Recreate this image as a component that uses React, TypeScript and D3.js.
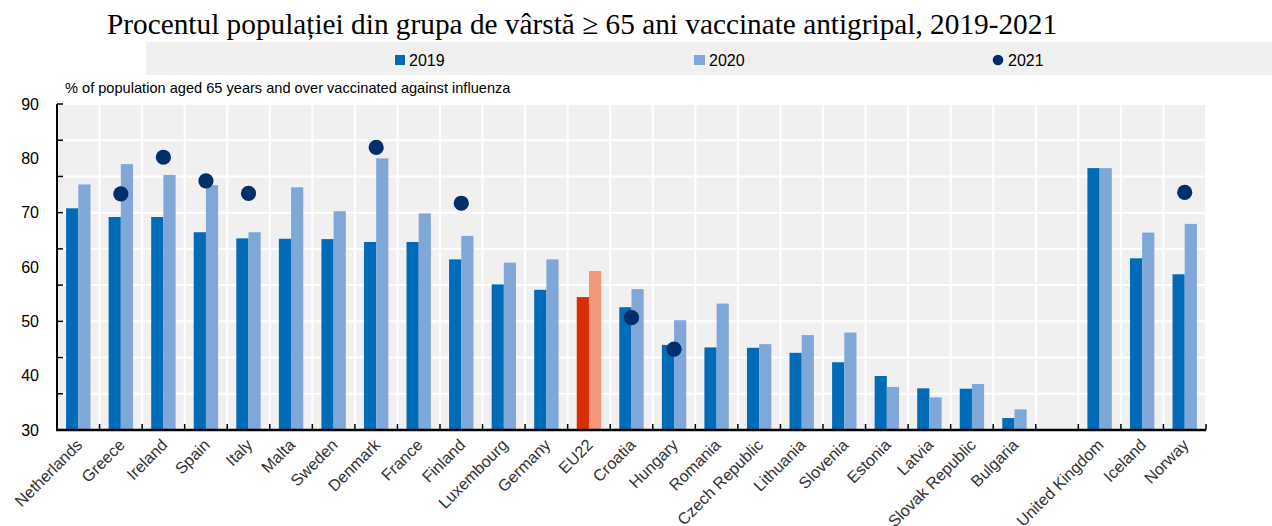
import React from 'react';
import * as d3 from 'd3';

// categories, left to right ("" is the empty gap before the non-EU countries)
const countries = [
  'Netherlands', 'Greece', 'Ireland', 'Spain', 'Italy', 'Malta', 'Sweden', 'Denmark',
  'France', 'Finland', 'Luxembourg', 'Germany', 'EU22', 'Croatia', 'Hungary', 'Romania',
  'Czech Republic', 'Lithuania', 'Slovenia', 'Estonia', 'Latvia', 'Slovak Republic',
  'Bulgaria', '', 'United Kingdom', 'Iceland', 'Norway',
];

const values2019 = [
  61.2, 58.8, 58.8, 54.6, 52.9, 52.8, 52.7, 51.9, 51.9, 47.1, 40.2, 38.7, 36.7, 33.9,
  23.5, 22.8, 22.7, 21.3, 18.7, 14.9, 11.5, 11.4, 3.3, null, 72.3, 47.4, 43.0,
];

const values2020 = [
  67.8, 73.4, 70.4, 67.6, 54.6, 67.0, 60.4, 75.0, 59.8, 53.6, 46.2, 47.1, 43.9, 38.9,
  30.3, 34.9, 23.7, 26.2, 26.9, 11.9, 9.0, 12.7, 5.7, null, 72.3, 54.5, 56.9,
];

const values2021 = [
  null, 65.2, 75.3, 68.8, 65.3, null, null, 78.0, null, 62.6, null, null, null, 31.0,
  22.3, null, null, null, null, null, null, null, null, null, null, null, 65.6,
];

// tick labels as printed on the left axis
const axisLabels = [30, 40, 50, 60, 70, 80, 90];

const series = ['2019', '2020'];

const title = 'Procentul populației din grupa de vârstă ≥ 65 ani vaccinate antigripal, 2019-2021';
const subtitle = '% of population aged 65 years and over vaccinated against influenza';

const colors = {
  '2019': '#006bb6',
  '2020': '#7fa7d8',
  '2021': '#002f6c',
  eu2019: '#dc2d00',
  eu2020: '#f4987a',
};

const App = () => {
  const width = 1272;
  const height = 526;
  const left = 57, right = 1206, top = 104, bottom = 430;

  const x = d3.scaleBand<string>().domain(countries).range([left, right]).padding(0);
  const inner = d3.scaleBand<string>().domain(series).range([0, x.bandwidth()])
    .paddingInner(0).paddingOuter(0.745);
  const y = d3.scaleLinear().domain([0, 90]).range([bottom, top]);
  const yLabel = d3.scaleLinear().domain([30, 90]).range([bottom, top]);

  const boundaries = countries.map((c) => x(c)!).concat([right]);
  const sans = '"Liberation Sans", Arial, sans-serif';

  return (
    <svg width={width} height={height} style={{ position: 'absolute', left: 0, top: 0 }}>
      <rect x={0} y={0} width={width} height={height} fill="#fff" />
      <text x={107} y={34} fontFamily='"Liberation Serif", "Times New Roman", serif'
        fontSize={29.3} fill="#000">{title}</text>

      {/* legend band */}
      <rect x={146} y={42} width={width - 146} height={33} fill="#f0f0f0" />
      <rect x={395} y={55} width={10} height={10} fill={colors['2019']} />
      <text x={409} y={66} fontFamily={sans} fontSize={16}>2019</text>
      <rect x={694} y={55} width={11} height={10} fill={colors['2020']} />
      <text x={709} y={66} fontFamily={sans} fontSize={16}>2020</text>
      <circle cx={998} cy={60} r={5.3} fill={colors['2021']} />
      <text x={1008} y={66} fontFamily={sans} fontSize={16}>2021</text>

      <text x={65} y={93} fontFamily={sans} fontSize={14.6} fill="#000">{subtitle}</text>

      {/* plot background and grid */}
      <rect x={left} y={top} width={right - left} height={bottom - top} fill="#f0f0f0" />
      {y.ticks(9).map((t) => (
        <line key={'h' + t} x1={left} x2={right} y1={y(t)} y2={y(t)} stroke="#fff" strokeWidth={2} />
      ))}
      {boundaries.map((b, i) => (
        <line key={'v' + i} x1={b} x2={b} y1={top} y2={bottom} stroke="#fff" strokeWidth={2} />
      ))}

      {/* bars */}
      {countries.map((c, i) => {
        const isEU = c === 'EU22';
        return (
          <g key={'b' + i} transform={`translate(${x(c)},0)`}>
            {values2019[i] != null && (
              <rect x={inner('2019')} width={inner.bandwidth()} y={y(values2019[i] as number)}
                height={y(0) - y(values2019[i] as number)} fill={isEU ? colors.eu2019 : colors['2019']} />
            )}
            {values2020[i] != null && (
              <rect x={inner('2020')} width={inner.bandwidth()} y={y(values2020[i] as number)}
                height={y(0) - y(values2020[i] as number)} fill={isEU ? colors.eu2020 : colors['2020']} />
            )}
          </g>
        );
      })}

      {/* 2021 dots */}
      {countries.map((c, i) => values2021[i] != null && (
        <circle key={'d' + i} cx={x(c)! + x.bandwidth() / 2} cy={y(values2021[i] as number)}
          r={7.6} fill={colors['2021']} />
      ))}

      {/* axes */}
      {y.ticks(9).map((t) => (
        <line key={'lt' + t} x1={left} x2={left + 6} y1={y(t)} y2={y(t)} stroke="#000" strokeWidth={1.5} />
      ))}
      {boundaries.map((b, i) => (
        <line key={'bt' + i} x1={b} x2={b} y1={bottom} y2={bottom - 6} stroke="#000" strokeWidth={1.5} />
      ))}
      <line x1={left} x2={left} y1={top} y2={bottom + 1} stroke="#000" strokeWidth={2} />
      <line x1={left - 1} x2={right} y1={bottom} y2={bottom} stroke="#000" strokeWidth={2.5} />

      {axisLabels.map((t) => (
        <text key={'yl' + t} x={39} y={yLabel(t)} dy="0.35em" textAnchor="end"
          fontFamily={sans} fontSize={16} fill="#000">{t}</text>
      ))}

      {countries.map((c, i) => c && (
        <text key={'xl' + i} transform={`translate(${x(c)! + x.bandwidth() / 2 + 5},${446}) rotate(-45)`}
          textAnchor="end" fontFamily={sans} fontSize={16.2} fill="#333">{c}</text>
      ))}
    </svg>
  );
};

export default App;
